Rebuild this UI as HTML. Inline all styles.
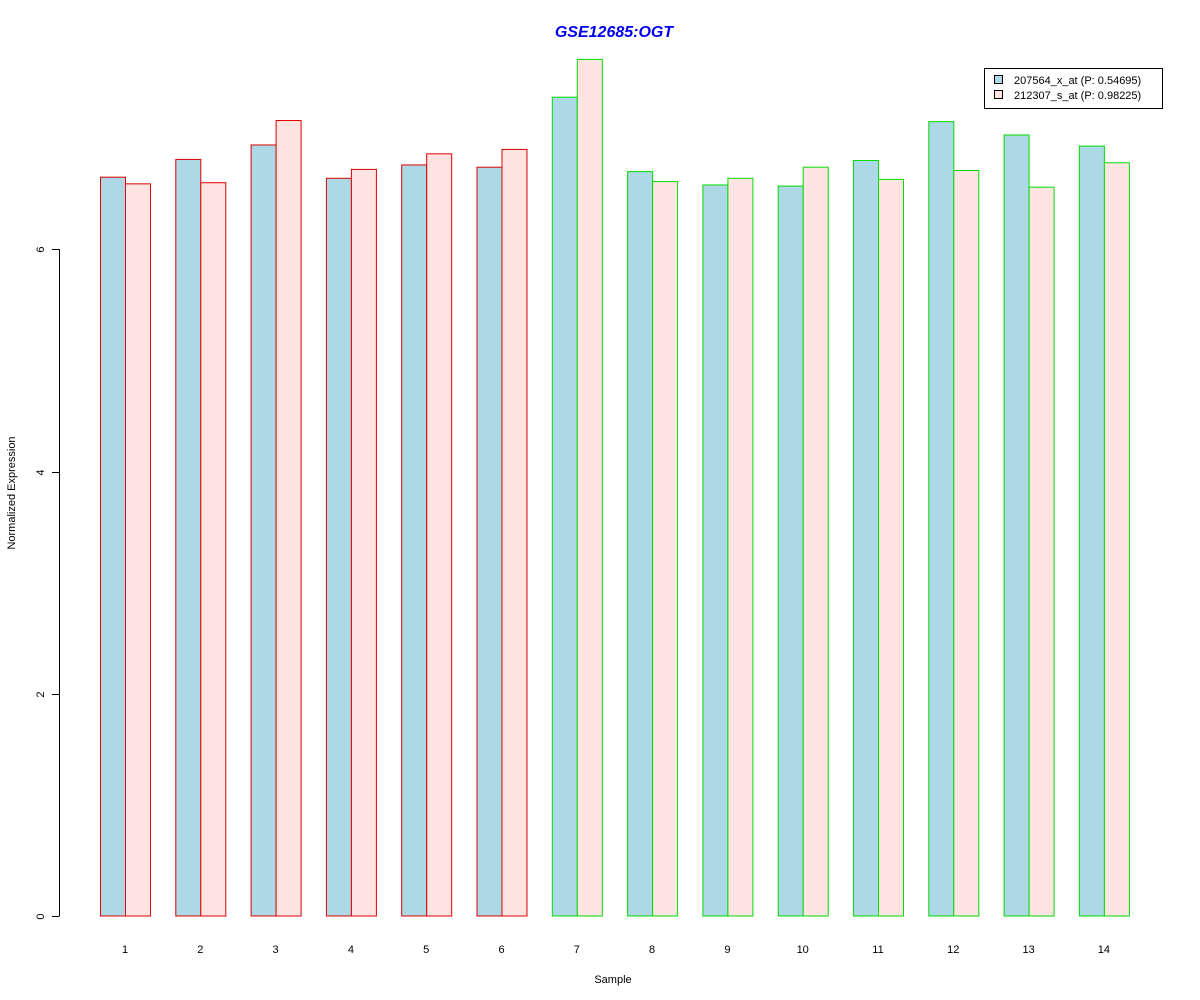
<!DOCTYPE html>
<html><head><meta charset="utf-8"><style>
body{margin:0;background:#fff;}
svg{display:block;font-family:"Liberation Sans",Arial,sans-serif;}
</style></head><body>
<svg id="chart" width="1200" height="1000" viewBox="0 0 1200 1000" xmlns="http://www.w3.org/2000/svg">
<rect width="1200" height="1000" fill="#fff"/>
<text x="614" y="37" text-anchor="middle" font-size="16" font-weight="bold" font-style="italic" fill="#0000ee">GSE12685:OGT</text>
<text x="613" y="983" text-anchor="middle" font-size="11">Sample</text>
<text transform="translate(15,493) rotate(-90)" text-anchor="middle" font-size="11">Normalized Expression</text>
<g id="yaxis"></g>
<g id="bars"></g>
<g id="xlabels"></g>
<g>
<rect x="984.5" y="68.5" width="178" height="40" fill="#fff" stroke="#000"/>
<rect x="994.5" y="75.5" width="8" height="8" fill="#add8e6" stroke="#000"/>
<text x="1014" y="84" font-size="11">207564_x_at (P: 0.54695)</text>
<rect x="994.5" y="90.5" width="8" height="8" fill="#ffe4e1" stroke="#000"/>
<text x="1014" y="99" font-size="11">212307_s_at (P: 0.98225)</text>
</g>
</svg>
<script>
const samples = ["1","2","3","4","5","6","7","8","9","10","11","12","13","14"];
const series1 = [6.65,6.81,6.94,6.64,6.76,6.74,7.37,6.70,6.58,6.57,6.80,7.15,7.03,6.93];
const series2 = [6.59,6.60,7.16,6.72,6.86,6.90,7.71,6.61,6.64,6.74,6.63,6.71,6.56,6.78];
const groups = ["a","a","a","a","a","a","b","b","b","b","b","b","b","b"];
const yTicks = [0,2,4,6];

const NS="http://www.w3.org/2000/svg";
const y0=916, pxPerUnit=111.1;
function yScale(v){return y0 - v*pxPerUnit;}
function xScale(i){return 100 + i*75.3;}
const barW=25;
function mk(tag,attrs,parent){const e=document.createElementNS(NS,tag);for(const k in attrs)e.setAttribute(k,attrs[k]);parent.appendChild(e);return e;}

const yaxis=document.getElementById('yaxis');
mk('line',{x1:59.5,x2:59.5,y1:yScale(0),y2:yScale(yTicks[yTicks.length-1]),stroke:'#000'},yaxis);
yTicks.forEach(t=>{
  const y=Math.round(yScale(t))+0.5;
  mk('line',{x1:52,x2:59.5,y1:y,y2:y,stroke:'#000'},yaxis);
  const tx=mk('text',{transform:`translate(44,${y}) rotate(-90)`,'text-anchor':'middle','font-size':11},yaxis);
  
  
  tx.textContent=t;
});

const bars=document.getElementById('bars');
const xl=document.getElementById('xlabels');
samples.forEach((s,i)=>{
  const x=xScale(i);
  const stroke=groups[i]==='a'?'#dd0000':'#00dd00';
  const b1=mk('rect',{x:x+0.5,y:yScale(series1[i]),width:barW,height:series1[i]*pxPerUnit,fill:'#add8e6',stroke:stroke},bars);
  
  
  const b2=mk('rect',{x:x+barW+0.5,y:yScale(series2[i]),width:barW,height:series2[i]*pxPerUnit,fill:'#ffe4e1',stroke:stroke},bars);
  
  
  const t=mk('text',{x:x+barW,y:953,'text-anchor':'middle','font-size':11},xl);
  
  
  t.textContent=s;
});
</script>
</body></html>
